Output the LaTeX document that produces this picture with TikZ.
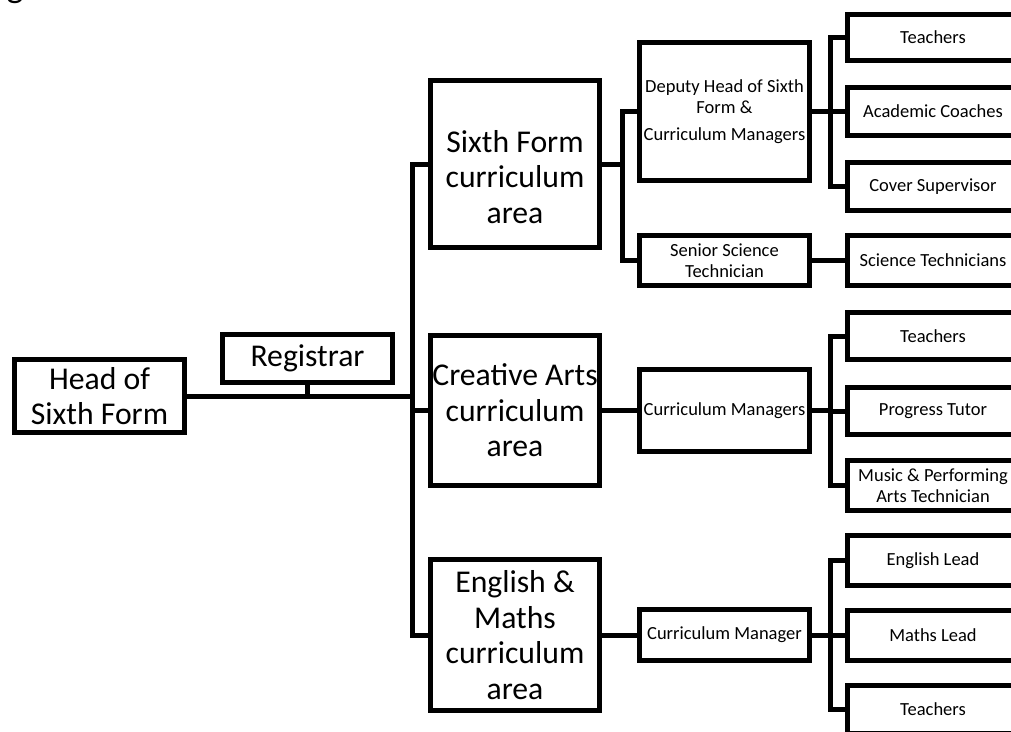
\documentclass[tikz,border=0pt]{standalone}
\usepackage{fontspec}
\setmainfont{Carlito}
\begin{document}
\begin{tikzpicture}[x=1pt,y=-1pt,
  line width=5pt,
  box/.style={draw=black, line width=5pt, fill=white, inner sep=0pt, align=center, minimum width=170pt},
  big/.style={font=\fontsize{31.7}{35.5}\selectfont},
  small/.style={font=\fontsize{18.5}{21.5}\selectfont},
  lbl/.style={inner sep=0pt, align=center},
  conn/.style={draw=black, line width=5pt}]
\useasboundingbox (0,0) rectangle (1011,731);
\fill[white] (0,0) rectangle (1011,731);
\clip (0,0) rectangle (1011,731);
% cut-off fragment of a title
\node[lbl, anchor=base, font=\fontsize{36}{40}\selectfont] (gfrag) at (15,-3) {g};
% level 0/1
\node[box, big, minimum width=170pt, minimum height=73pt] (head) at (99.5,396) {Head of\\Sixth Form};
\node[box, big, minimum width=170pt, minimum height=48pt] (reg) at (307.5,358.5) {Registrar};
% curriculum areas
\node[box, minimum width=169pt, minimum height=167pt] (sf) at (515,164) {};
\node[lbl, big] (sftext) at (515,177) {Sixth Form\\curriculum\\area};
\node[box, big, minimum width=169pt, minimum height=150pt] (ca) at (515,410.5) {Creative Arts\\curriculum\\area};
\node[box, big, minimum width=169pt, minimum height=151pt] (em) at (515,635) {English \&\\Maths\\curriculum\\area};
% managers
\node[box, small, minimum height=138pt] (dep) at (724.5,111.5) {Deputy Head of Sixth\\Form \&\\[5pt]Curriculum Managers};
\node[box, small, minimum height=50pt] (sst) at (724.5,260.5) {Senior Science\\Technician};
\node[box, small, minimum height=82pt] (cms) at (724.5,410.5) {Curriculum Managers};
\node[box, small, minimum height=51pt] (cm) at (724.5,635) {Curriculum Manager};
% staff
\node[box, small, minimum width=171pt, minimum height=46pt] (t1) at (933,37.5) {Teachers};
\node[box, small, minimum width=171pt, minimum height=48pt] (ac) at (933,111.5) {Academic Coaches};
\node[box, small, minimum width=171pt, minimum height=48pt] (cs) at (933,186.5) {Cover Supervisor};
\node[box, small, minimum width=171pt, minimum height=50pt] (sci) at (933,260.5) {Science Technicians};
\node[box, small, minimum width=171pt, minimum height=47pt] (t2) at (933,336) {Teachers};
\node[box, small, minimum width=171pt, minimum height=47pt] (pt) at (933,411) {Progress Tutor};
\node[box, small, minimum width=171pt, minimum height=50pt] (mus) at (933,485.5) {Music \& Performing\\Arts Technician};
\node[box, small, minimum width=171pt, minimum height=50pt] (el) at (933,560.5) {English Lead};
\node[box, small, minimum width=171pt, minimum height=50pt] (ml) at (933,635.5) {Maths Lead};
\node[box, small, minimum width=171pt, minimum height=48pt] (t3) at (933,709.5) {Teachers};
% bus coordinates
\coordinate (tk) at (412.5,396);
\coordinate (db) at (622,164);
\coordinate (rb1) at (830.5,111.5);
\coordinate (rb2) at (830.5,410.5);
\coordinate (rb3) at (830.5,635);
% connectors
\draw[conn] (head.east) -- (tk);
\draw[conn] (reg.south) -- (reg.south |- tk);
\draw[conn] (sf.west) -| (tk) |- (em.west);
\draw[conn] (tk) |- (ca.west);
\draw[conn] (sf.east) -- (db);
\draw[conn] (dep.west) -| (db) |- (sst.west);
\draw[conn] (sst.east) -- (sci.west);
\draw[conn] (ca.east) -- (cms.west);
\draw[conn] (em.east) -- (cm.west);
\draw[conn] (dep.east) -- (rb1);
\draw[conn] (t1.west) -| (rb1) |- (cs.west);
\draw[conn] (rb1) -- (ac.west);
\draw[conn] (cms.east) -- (rb2);
\draw[conn] (t2.west) -| (rb2) |- (mus.west);
\draw[conn] (rb2) |- (pt.west);
\draw[conn] (cm.east) -- (rb3);
\draw[conn] (el.west) -| (rb3) |- (t3.west);
\draw[conn] (rb3) |- (ml.west);
\end{tikzpicture}
\end{document}
